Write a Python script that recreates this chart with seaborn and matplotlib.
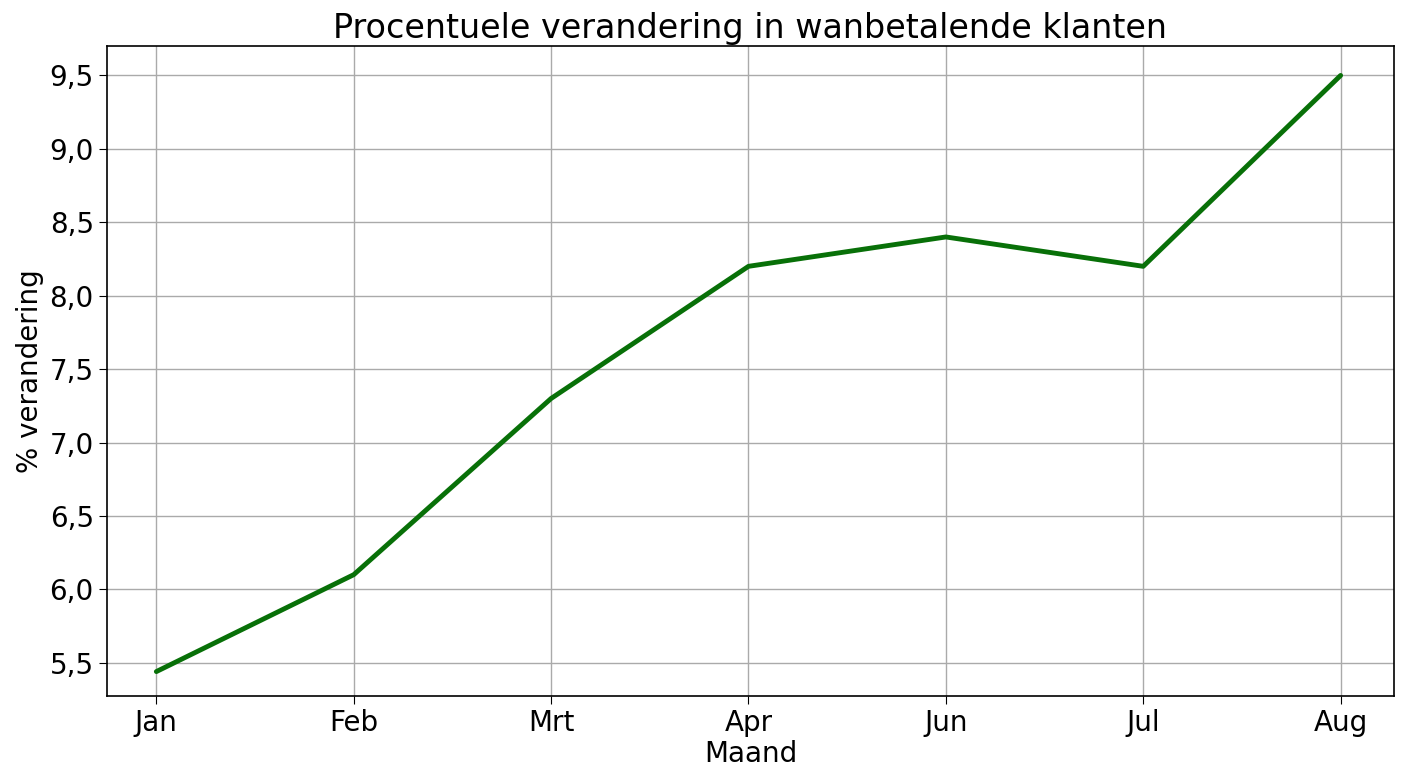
import matplotlib
matplotlib.use("Agg")
import matplotlib.pyplot as plt
import seaborn as sns
import pandas as pd
from matplotlib.ticker import FuncFormatter

months = ["Jan", "Feb", "Mrt", "Apr", "Jun", "Jul", "Aug"]
values = [5.44, 6.1, 7.3, 8.2, 8.4, 8.2, 9.5]

sns.set_style("whitegrid")
plt.rcParams['font.family'] = ['DejaVu Sans']
plt.rcParams['text.color'] = 'black'
plt.rcParams['axes.labelcolor'] = 'black'
plt.rcParams['xtick.color'] = 'black'
plt.rcParams['ytick.color'] = 'black'
df = pd.DataFrame({"Maand": months, "v": values})
df["x"] = range(len(months))

fig, ax = plt.subplots(figsize=(14.08, 7.68), dpi=100)
sns.lineplot(data=df, x="x", y="v", color="#087008", linewidth=3.5, ax=ax)
ax.set_xticks(df["x"])
ax.set_xticklabels(months)
ax.set_xlim(-0.25, 6.27)
ax.set_ylim(5.275, 9.70)
ax.set_yticks([5.5, 6.0, 6.5, 7.0, 7.5, 8.0, 8.5, 9.0, 9.5])
ax.yaxis.set_major_formatter(FuncFormatter(lambda v, p: f"{v:.1f}".replace(".", ",")))
ax.tick_params(labelsize=20, length=6, left=True, bottom=True)
ax.grid(True, color="#aaaaaa", linewidth=1)
for s in ax.spines.values():
    s.set_color("black"); s.set_linewidth(1.2)
ax.set_xlabel("Maand", fontsize=20, labelpad=2)
ax.set_ylabel("% verandering", fontsize=20)
ax.set_title("Procentuele verandering in wanbetalende klanten", fontsize=24, pad=6)
plt.subplots_adjust(left=0.076, right=0.99, top=0.94, bottom=0.094)
fig.savefig("out.png", dpi=100)
